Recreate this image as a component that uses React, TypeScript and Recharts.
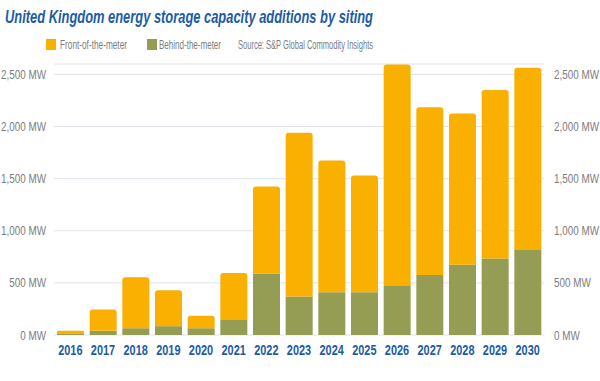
import * as React from "react"
import { Bar, ComposedChart, CartesianGrid, Line, XAxis, YAxis } from "recharts"

const years = ["2016", "2017", "2018", "2019", "2020", "2021", "2022", "2023", "2024", "2025", "2026", "2027", "2028", "2029", "2030"]
const behindTheMeter = [15, 40, 65, 85, 65, 145, 590, 370, 410, 410, 470, 575, 675, 735, 815]
const frontOfTheMeter = [25, 205, 490, 345, 120, 450, 835, 1570, 1265, 1120, 2125, 1610, 1450, 1615, 1750]
const yTicks = [0, 500, 1000, 1500, 2000, 2500]

const data = years.map((year, i) => ({
    year,
    behind: behindTheMeter[i],
    front: frontOfTheMeter[i],
}))

const ORANGE = "#F9B000"
const GREEN = "#959C53"
const BLUE = "#1D5BA6"
const GREY = "#7B7D80"
const FONT = "'Liberation Sans', Arial, sans-serif"
const SQUEEZE = 0.66

const fmt = (v: number) => `${v.toLocaleString("en-US")} MW`

// condensed look: squeeze plain Liberation Sans horizontally
function YTick(props: any) {
    const { x, y, payload, side } = props
    const left = side === "left"
    return (
        <text transform={`translate(${left ? x : x + 2},${y}) scale(0.76,1)`} textAnchor={left ? "end" : "start"}
            dominantBaseline="central" fill={GREY} fontFamily={FONT} fontSize={13}>
            {fmt(payload.value)}
        </text>
    )
}

function XTick(props: any) {
    const { x, y, payload } = props
    return (
        <text transform={`translate(${x},${y + 12}) scale(0.78,1)`} textAnchor="middle"
            fill={BLUE} fontFamily={FONT} fontWeight="bold" fontSize={14}>
            {payload.value}
        </text>
    )
}

function LegendText({ x, width, children }: { x: number; width: number; children: string }) {
    return (
        <text transform={`translate(${x},49) scale(${SQUEEZE},1)`} fill={GREY} fontFamily={FONT} fontSize={12.5}
            textLength={width / SQUEEZE} lengthAdjust="spacingAndGlyphs">
            {children}
        </text>
    )
}

export default function App() {
    return (
        <div style={{ position: "absolute", left: 0, top: 0, width: 600, height: 381, background: "#fff" }}>
            <svg width={600} height={60} style={{ position: "absolute", left: 0, top: 0 }}>
                <text x={5} y={23} fill={BLUE} fontFamily={FONT} fontWeight="bold" fontStyle="italic" fontSize={18}
                    textLength={368} lengthAdjust="spacingAndGlyphs">
                    United Kingdom energy storage capacity additions by siting
                </text>
                <rect x={46} y={39} width={10} height={11} fill={ORANGE} />
                <LegendText x={60} width={67}>Front-of-the-meter</LegendText>
                <rect x={147} y={39} width={10} height={11} fill={GREEN} />
                <LegendText x={159} width={62}>Behind-the-meter</LegendText>
                <LegendText x={238} width={135}>Source: S&amp;P Global Commodity Insights</LegendText>
            </svg>
            <div style={{ position: "absolute", left: 0, top: 0 }}>
                <ComposedChart width={600} height={381} data={data} barCategoryGap={3}
                    margin={{ top: 64, right: 0, bottom: 18, left: 0 }}>
                    <CartesianGrid yAxisId="left" vertical={false} stroke="#DFE3EA" />
                    <XAxis dataKey="year" axisLine={false} tickLine={false} height={28}
                        tick={<XTick />} interval={0} />
                    <YAxis yAxisId="left" orientation="left" width={54} domain={[0, 2600]} ticks={yTicks}
                        axisLine={false} tickLine={false} tick={<YTick side="left" />} />
                    <YAxis yAxisId="right" orientation="right" width={56} domain={[0, 2600]} ticks={yTicks}
                        axisLine={false} tickLine={false} tick={<YTick side="right" />} />
                    <Bar yAxisId="left" dataKey="behind" stackId="a" fill={GREEN} isAnimationActive={false} />
                    <Bar yAxisId="left" dataKey="front" stackId="a" fill={ORANGE} radius={[3, 3, 0, 0]} isAnimationActive={false} />
                    {/* invisible series so the right-hand axis gets drawn */}
                    <Line yAxisId="right" dataKey="behind" stroke="none" dot={false} activeDot={false}
                        legendType="none" isAnimationActive={false} />
                </ComposedChart>
            </div>
        </div>
    )
}
